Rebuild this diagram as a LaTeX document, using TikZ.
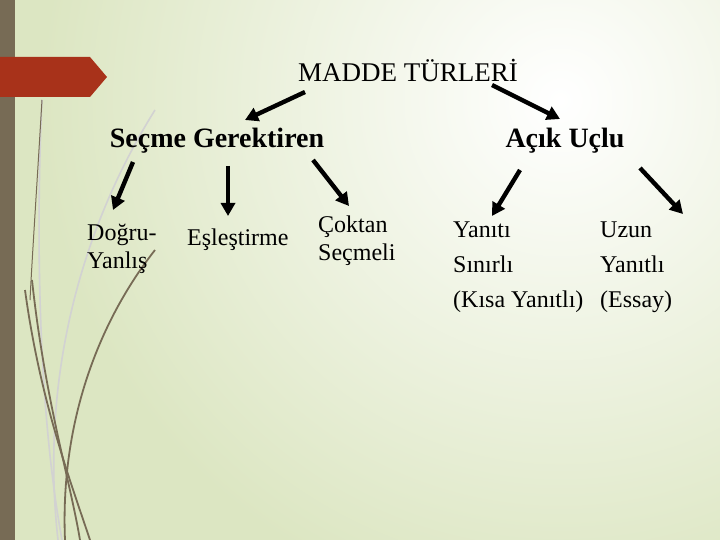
\documentclass[tikz,border=0pt]{standalone}
\usepackage{fontspec}
\setmainfont{Liberation Serif}
\usetikzlibrary{arrows.meta}
\definecolor{bar}{HTML}{776B55}
\definecolor{tab}{HTML}{A8321A}
\definecolor{bgg}{HTML}{DCE6C2}
\tikzset{
  arr/.style={line width=4.4pt,-{Triangle[length=13pt,width=14pt]}},
  lab/.style={inner sep=0pt,font=\fontsize{24}{28}\selectfont,align=left},
  head/.style={inner sep=0pt,font=\bfseries\fontsize{28}{32}\selectfont},
  deco/.style={bar,line width=1.8pt},
  decol/.style={gray!35,line width=1.6pt}
}
\begin{document}
\begin{tikzpicture}[x=1pt,y=-1pt]
\useasboundingbox (0,0) rectangle (720,540);
\fill[bgg] (0,0) rectangle (720,540);
\shade[inner color=white,outer color=bgg] (560,100) circle (520);
% decoration
\draw[decol] (155,110) .. controls (80,230) and (40,380) .. (58,540);
\draw[decol] (42,100) .. controls (35,250) and (40,420) .. (62,540);
\draw[deco,line width=1pt] (42,100) .. controls (36,200) and (32,260) .. (30,300);
\draw[deco] (25,290) .. controls (40,400) and (70,480) .. (90,540);
\draw[deco] (32,280) .. controls (45,400) and (70,480) .. (80,540);
\draw[deco] (155,250) .. controls (100,320) and (60,420) .. (65,540);
\fill[bar] (0,0) rectangle (15,540);
\fill[tab] (0,57) -- (90,57) -- (107,77) -- (90,97) -- (0,97) -- cycle;
% nodes
\node[inner sep=0pt,font=\fontsize{27}{32}\selectfont] (root) at (408,70) {MADDE TÜRLERİ};
\node[head] (sg) at (217,141) {Seçme Gerektiren};
\node[head] (au) at (565,141) {Açık Uçlu};
\node[lab,anchor=north west] (dy) at (87,224) {Doğru-\\Yanlış};
\node[lab,anchor=north west] (es) at (187,229) {Eşleştirme};
\node[lab,anchor=north west] (cs) at (318,216) {Çoktan\\Seçmeli};
\node[lab,anchor=north west,font=\fontsize{24}{35}\selectfont] (ys) at (453,222) {Yanıtı\\Sınırlı\\(Kısa Yanıtlı)};
\node[lab,anchor=north west,font=\fontsize{24}{35}\selectfont] (uy) at (600,222) {Uzun\\Yanıtlı\\(Essay)};
% arrows
\coordinate (r1) at (305,92); \coordinate (s1) at (245,120);
\coordinate (r2) at (492,85); \coordinate (s2) at (560,119);
\coordinate (a3) at (133,162); \coordinate (b3) at (113,210);
\coordinate (a4) at (228,166); \coordinate (b4) at (228,216);
\coordinate (a5) at (313,160); \coordinate (b5) at (349,206);
\coordinate (a6) at (520,170); \coordinate (b6) at (492,216);
\coordinate (a7) at (640,168); \coordinate (b7) at (683,214);
\draw[arr] (r1) -- (s1);
\draw[arr] (r2) -- (s2);
\draw[arr] (a3) -- (b3);
\draw[arr] (a4) -- (b4);
\draw[arr] (a5) -- (b5);
\draw[arr] (a6) -- (b6);
\draw[arr] (a7) -- (b7);
\end{tikzpicture}
\end{document}
